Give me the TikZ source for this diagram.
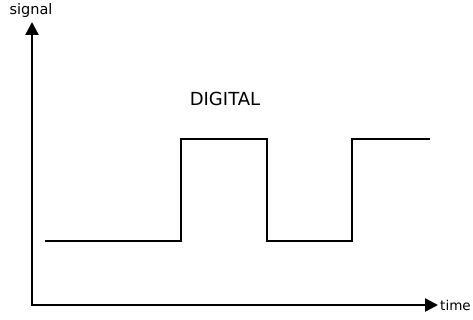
\documentclass[tikz,border=0pt]{standalone}
\usepackage{fontspec}
\setmainfont{DejaVu Sans}
\usetikzlibrary{arrows.meta, positioning}

\begin{document}
\begin{tikzpicture}[x=1pt, y=-1pt,
			axis/.style={line width=2.4pt, -{Triangle[length=13pt, width=13pt]}},
			wave/.style={line width=2.4pt, line join=miter},
			axislabel/.style={font=\fontsize{13.5}{13.5}\selectfont, inner sep=0pt},
			title/.style={font=\fontsize{18}{18}\selectfont, inner sep=0pt}
			]
			\useasboundingbox (0,0) rectangle (473,320);
			
			% axes
			\coordinate (origin) at (32,305);
			\coordinate (ytip) at (32,22);
			\coordinate (xtip) at (438,305);
			\draw[axis] (origin|-0,306) -- (ytip);
			\draw[axis] (31,305) -- (xtip);
			\node[axislabel, font=\fontsize{14.5}{14.5}\selectfont, anchor=base] (sig) at (31,15) {signal};
			\node[axislabel, anchor=west] (tim) at (440,305) {time};
			
			% square wave
			\def\lo{241}
			\def\hi{139}
			\draw[wave] (45,\lo) -- (181,\lo) -- (181,\hi) -- (267,\hi)
				-- (267,\lo) -- (352,\lo) -- (352,\hi) -- (430,\hi);
			
			\node[title] (dig) at (225,99) {DIGITAL};
			
		\end{tikzpicture}
\end{document}
